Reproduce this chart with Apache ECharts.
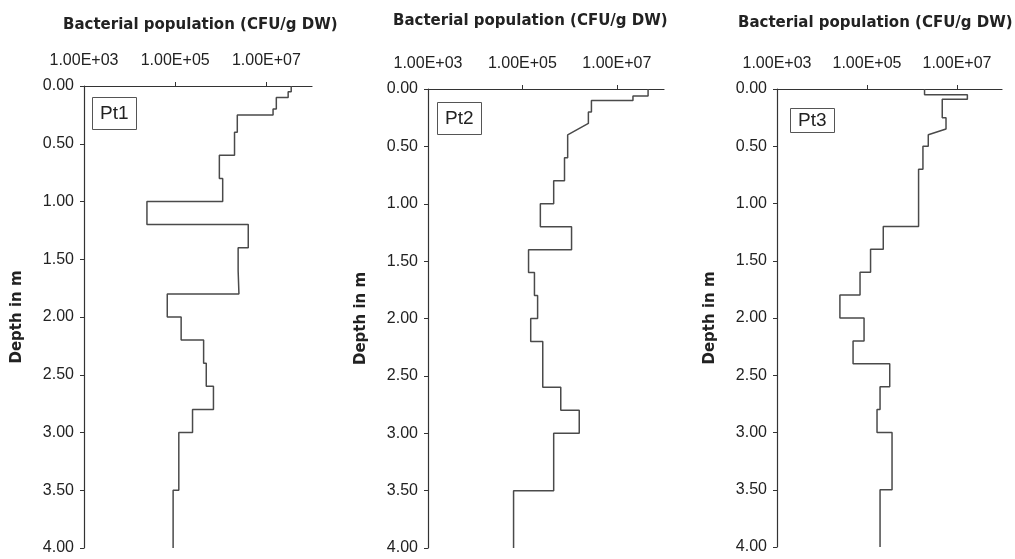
<!DOCTYPE html>
<html lang="en">

<head>
  <meta charset="UTF-8">
  <title>bacterial population</title>
  <style>
    html, body { margin: 0; padding: 0; background: #fff; }
    #chart { width: 1015px; height: 559px; }
  </style>
</head>

<body>
  <div id="chart"></div>
  <script src="https://cdn.jsdelivr.net/npm/echarts@6/dist/echarts.min.js"></script>
  <script>
    // depth intervals (m) and CFU/g DW
    var pt1Top = [0, 0.05, 0.1, 0.2, 0.25, 0.4, 0.6, 0.8, 1.0, 1.2, 1.4, 1.6, 1.8, 2.0, 2.2, 2.4, 2.6, 2.8, 3.0, 3.5];
    var pt1Bottom = [0.05, 0.1, 0.2, 0.25, 0.4, 0.6, 0.8, 1.0, 1.2, 1.4, 1.6, 1.8, 2.0, 2.2, 2.4, 2.6, 2.8, 3.0, 3.5, 4.0];
    var pt1Values = [3.5e7, 3.0e7, 1.65e7, 1.4e7, 2.3e6, 2.0e6, 9.3e5, 1.1e6, 2.4e4, 4.0e6, 2.4e6, 2.5e6, 6.7e4, 1.35e5, 4.2e5, 4.8e5, 6.9e5, 2.4e5, 1.2e5, 9.0e4];

    var pt2Top = [0, 0.06, 0.1, 0.2, 0.4, 0.6, 0.8, 1.0, 1.2, 1.4, 1.6, 1.8, 2.0, 2.2, 2.6, 2.8, 3.0, 3.5];
    var pt2Bottom = [0.06, 0.1, 0.2, 0.3, 0.6, 0.8, 1.0, 1.2, 1.4, 1.6, 1.8, 2.0, 2.2, 2.6, 2.8, 3.0, 3.5, 4.0];
    var pt2Values = [4.6e7, 2.2e7, 2.9e6, 2.5e6, 9.1e5, 7.8e5, 4.6e5, 2.4e5, 1.1e6, 1.35e5, 1.8e5, 2.1e5, 1.5e5, 2.7e5, 6.5e5, 1.6e6, 4.6e5, 6.5e4];

    var pt3Top = [0, 0.05, 0.09, 0.25, 0.4, 0.5, 0.7, 1.2, 1.4, 1.6, 1.8, 2.0, 2.2, 2.4, 2.6, 2.8, 3.0, 3.5];
    var pt3Bottom = [0.05, 0.09, 0.25, 0.35, 0.5, 0.7, 1.2, 1.4, 1.6, 1.8, 2.0, 2.2, 2.4, 2.6, 2.8, 3.0, 3.5, 4.0];
    var pt3Values = [1.9e6, 1.7e7, 4.7e6, 5.7e6, 2.3e6, 1.75e6, 1.4e6, 2.3e5, 1.2e5, 7e4, 2.5e4, 8.6e4, 4.9e4, 3.2e5, 1.95e5, 1.67e5, 3.6e5, 1.95e5];

    var pointNames = ['Pt1', 'Pt2', 'Pt3'];
    var xLabelValues = [1e3, 1e5, 1e7];
    var xTickValues = [1e5, 1e7];

    var profiles = [
      { top: pt1Top, bottom: pt1Bottom, values: pt1Values },
      { top: pt2Top, bottom: pt2Bottom, values: pt2Values },
      { top: pt3Top, bottom: pt3Bottom, values: pt3Values }
    ];

    // each sample is a vertical run from its top depth to its bottom depth
    function profilePoints(p) {
      var pts = [];
      for (var i = 0; i < p.values.length; i++) {
        pts.push([p.values[i], p.top[i]]);
        pts.push([p.values[i], p.bottom[i]]);
      }
      return pts;
    }

    var grids = [
      { left: 84, top: 86, width: 228, height: 462 },
      { left: 428, top: 89, width: 236, height: 459 },
      { left: 777, top: 89, width: 225, height: 458 }
    ];
    var titleLeft = [63, 393, 738];
    var titleTop = [18, 14, 16];
    var boxPos = [[92, 97, [7, 8]], [437, 102, [7, 8]], [790, 108, [3, 8]]];

    var axisColor = '#333';
    var sans = 'Liberation Sans, Arial, sans-serif';

    var titles = [];
    var xAxes = [];
    var yAxes = [];
    var series = [];

    profiles.forEach(function (p, i) {
      titles.push({
        text: 'Bacterial population (CFU/g DW)',
        left: titleLeft[i],
        top: titleTop[i],
        padding: 0,
        textStyle: { fontFamily: 'DejaVu Sans', fontWeight: 'bold', fontSize: 15, color: '#222' }
      });
      titles.push({
        text: pointNames[i],
        left: boxPos[i][0],
        top: boxPos[i][1],
        padding: boxPos[i][2],
        borderColor: '#555',
        borderWidth: 1,
        textStyle: { fontFamily: sans, fontWeight: 'normal', fontSize: 19, color: '#222' }
      });
      xAxes.push({
        gridIndex: i,
        type: 'log',
        logBase: 10,
        position: 'top',
        min: 1e3,
        max: 1e8,
        axisLine: { lineStyle: { color: axisColor, width: 1.2 } },
        axisTick: { show: true, length: 4, customValues: xTickValues, lineStyle: { color: axisColor } },
        axisLabel: {
          customValues: xLabelValues,
          margin: 17,
          fontFamily: sans,
          fontSize: 16,
          color: '#222',
          formatter: function (v) {
            var e = Math.round(Math.log10(v));
            return '1.00E+' + (e < 10 ? '0' : '') + e;
          }
        },
        splitLine: { show: false },
        minorTick: { show: false }
      });
      yAxes.push({
        gridIndex: i,
        type: 'value',
        inverse: true,
        min: 0,
        max: 4,
        interval: 0.5,
        name: 'Depth in m',
        nameLocation: 'middle',
        nameRotate: 90,
        nameGap: 59,
        nameTextStyle: { fontFamily: 'DejaVu Sans', fontWeight: 'bold', fontSize: 15, color: '#222' },
        axisLine: { show: true, lineStyle: { color: axisColor, width: 1.2 } },
        axisTick: { show: true, length: 4, lineStyle: { color: axisColor } },
        axisLabel: {
          margin: 10,
          fontFamily: sans,
          fontSize: 16,
          color: '#222',
          formatter: function (v) { return v.toFixed(2); }
        },
        splitLine: { show: false }
      });
      series.push({
        type: 'line',
        name: pointNames[i],
        xAxisIndex: i,
        yAxisIndex: i,
        data: profilePoints(p),
        symbol: 'none',
        silent: true,
        lineStyle: { color: '#4a4a4a', width: 1.5 }
      });
    });

    var myChart = echarts.init(document.getElementById('chart'));
    myChart.setOption({
      animation: false,
      backgroundColor: '#fff',
      title: titles,
      grid: grids,
      xAxis: xAxes,
      yAxis: yAxes,
      series: series
    });
  </script>
</body>

</html>
